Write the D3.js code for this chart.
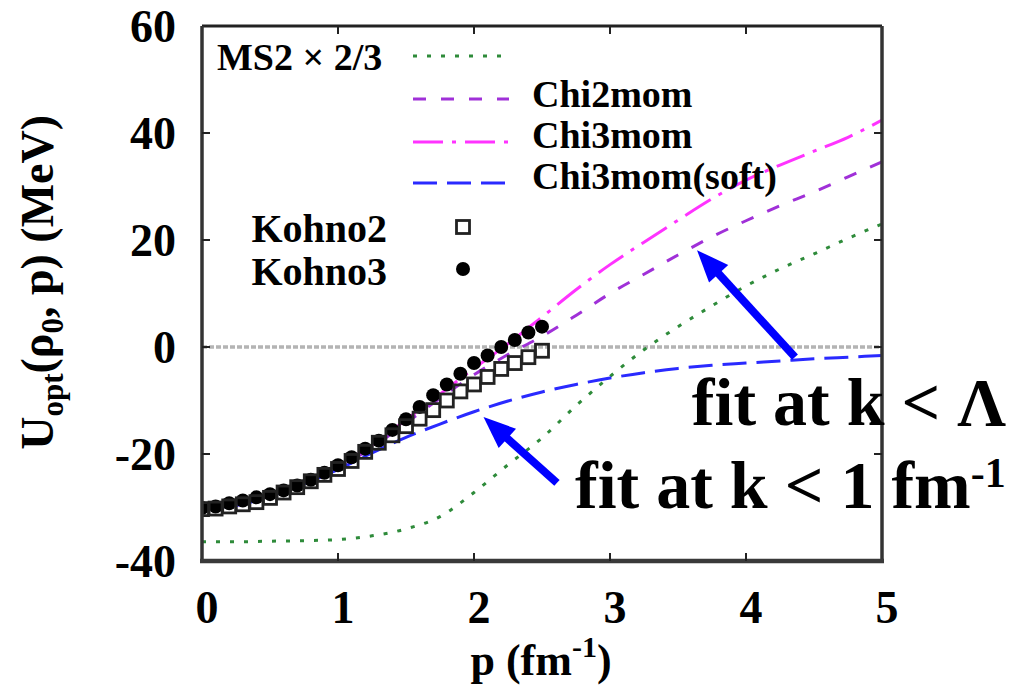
<!DOCTYPE html>
<html>
<head>
<meta charset="utf-8">
<script src="https://cdn.jsdelivr.net/npm/d3@7"></script>
<style>
  body { margin: 0; background: #fff; }
  svg { display: block; }
  text { font-family: "Liberation Serif", "Times New Roman", serif; font-weight: bold; fill: #000; }
</style>
</head>
<body>
<svg id="chart" width="1028" height="685"></svg>
<script>
// momentum grid for the model curves (fm^-1)
const pGrid = [0, 0.25, 0.5, 0.75, 1, 1.25, 1.5, 1.75, 2, 2.25, 2.5, 2.75, 3, 3.25, 3.5, 3.75, 4, 4.25, 4.5, 4.75, 5]
const ms2 = [-36.4, -36.4, -36.3, -36.2, -36.0, -35.3, -34.0, -31.7, -27.2, -22.0, -17.0, -11.0, -5.5, -0.5, 3.8, 7.7, 11.4, 14.6, 17.4, 20.3, 23.0]
const chi2mom = [-30.1, -29.6, -27.8, -25.6, -22.6, -18.8, -14.2, -9.6, -5.2, -1.4, 2.0, 5.9, 10.0, 13.6, 17.2, 20.6, 23.6, 26.4, 29.0, 31.8, 34.6]
const chi3mom = [-30.1, -29.5, -27.6, -25.2, -22.2, -18.3, -13.6, -8.8, -4.0, 0.6, 5.6, 10.7, 15.4, 19.6, 23.7, 27.7, 31.2, 34.0, 36.6, 39.2, 42.4]
const chi3momSoft = [-30.1, -29.6, -27.9, -25.6, -22.9, -19.8, -16.9, -14.4, -12.1, -10.1, -8.4, -7.0, -5.8, -4.8, -4.0, -3.4, -3.0, -2.6, -2.2, -1.9, -1.6]

// Kohno points
const kohnoP = [0, 0.1, 0.2, 0.3, 0.4, 0.5, 0.6, 0.7, 0.8, 0.9, 1.0, 1.1, 1.2, 1.3, 1.4, 1.5, 1.6, 1.7, 1.8, 1.9, 2.0, 2.1, 2.2, 2.3, 2.4, 2.5]
const kohno2 = [-30.3, -30.2, -29.8, -29.4, -29.0, -28.2, -27.2, -26.2, -25.1, -23.9, -22.8, -21.3, -19.6, -17.9, -16.5, -14.8, -13.4, -11.8, -10.0, -8.3, -7.0, -5.6, -4.1, -3.0, -1.9, -0.7]
const kohno3 = [-30.1, -29.8, -29.2, -28.7, -28.1, -27.5, -26.8, -25.9, -24.8, -23.5, -22.1, -20.6, -19.0, -17.5, -15.5, -13.5, -11.2, -9.0, -7.0, -5.0, -3.0, -1.6, 0.0, 1.3, 2.7, 3.8]

const xTicks = [0, 1, 2, 3, 4, 5]
const yTicks = [-40, -20, 0, 20, 40, 60]

// arrows: [tailP, tailU, tipP, tipU]
const arrowLambda = [4.36, -1.9, 3.64, 18.1]
const arrowOne = [2.61, -25.4, 2.07, -13.1]

const svg = d3.select('#chart')
const x = d3.scaleLinear().domain([0, 5]).range([202, 882])
const y = d3.scaleLinear().domain([-40, 60]).range([561, 26])

svg.append('clipPath').attr('id', 'plotclip')
  .append('rect').attr('x', 202).attr('y', 26).attr('width', 680).attr('height', 535)

const plot = svg.append('g').attr('clip-path', 'url(#plotclip)')

// zero line
plot.append('line')
  .attr('x1', x(0)).attr('x2', x(5)).attr('y1', y(0)).attr('y2', y(0))
  .attr('stroke', '#b4b4b4').attr('stroke-width', 3.5).attr('stroke-dasharray', '5,2')

const series = [
  { name: 'ms2', vals: ms2, color: '#2e8b3a', dash: '4,10', width: 3 },
  { name: 'chi2mom', vals: chi2mom, color: '#a030d8', dash: '13,15', width: 3 },
  { name: 'chi3mom', vals: chi3mom, color: '#ff33ff', dash: '30,9,4,9', width: 3 },
  { name: 'chi3momSoft', vals: chi3momSoft, color: '#2a2aff', dash: '24,10', width: 3 }
]

const line = d3.line()
  .x(d => x(d[0]))
  .y(d => y(d[1]))
  .curve(d3.curveMonotoneX)

series.forEach(s => {
  plot.append('path')
    .attr('d', line(pGrid.map((p, i) => [p, s.vals[i]])))
    .attr('fill', 'none')
    .attr('stroke', s.color)
    .attr('stroke-width', s.width)
    .attr('stroke-dasharray', s.dash)
})

// Kohno3 filled circles
plot.append('g').selectAll('circle')
  .data(kohnoP.map((p, i) => [p, kohno3[i]]))
  .join('circle')
  .attr('cx', d => x(d[0])).attr('cy', d => y(d[1]))
  .attr('r', 7).attr('fill', '#000')

// Kohno2 open squares
const sq = 13
plot.append('g').selectAll('rect')
  .data(kohnoP.map((p, i) => [p, kohno2[i]]))
  .join('rect')
  .attr('x', d => x(d[0]) - sq / 2).attr('y', d => y(d[1]) - sq / 2)
  .attr('width', sq).attr('height', sq)
  .attr('fill', 'none').attr('stroke', '#222').attr('stroke-width', 2.8)

// frame
svg.append('line').attr('x1', 202).attr('x2', 882).attr('y1', 26).attr('y2', 26).attr('stroke', '#222').attr('stroke-width', 3)
svg.append('line').attr('x1', 882).attr('x2', 882).attr('y1', 26).attr('y2', 561).attr('stroke', '#333').attr('stroke-width', 3.5)
svg.append('line').attr('x1', 202).attr('x2', 202).attr('y1', 26).attr('y2', 561).attr('stroke', '#333').attr('stroke-width', 3.5)
svg.append('line').attr('x1', 200).attr('x2', 884).attr('y1', 561).attr('y2', 561).attr('stroke', '#3a3a3a').attr('stroke-width', 4.5)

// ticks (inward, all four sides)
const tickLen = 8
const tk = svg.append('g').attr('stroke', '#222').attr('stroke-width', 2)
xTicks.slice(1, -1).forEach(t => {
  tk.append('line').attr('x1', x(t)).attr('x2', x(t)).attr('y1', 561).attr('y2', 561 - tickLen)
  tk.append('line').attr('x1', x(t)).attr('x2', x(t)).attr('y1', 26).attr('y2', 26 + tickLen)
})
yTicks.slice(1, -1).forEach(t => {
  tk.append('line').attr('x1', 202).attr('x2', 202 + tickLen).attr('y1', y(t)).attr('y2', y(t))
  tk.append('line').attr('x1', 882).attr('x2', 882 - tickLen).attr('y1', y(t)).attr('y2', y(t))
})

// tick labels
svg.append('g').selectAll('text')
  .data(yTicks).join('text')
  .attr('x', 176).attr('y', d => y(d))
  .attr('text-anchor', 'end').attr('dominant-baseline', 'central')
  .attr('font-size', 46)
  .text(d => d)

svg.append('g').selectAll('text')
  .data(xTicks).join('text')
  .attr('x', d => x(d) + 5).attr('y', 623)
  .attr('text-anchor', 'middle')
  .attr('font-size', 46)
  .text(d => d)

// axis titles
const xt = svg.append('text').attr('x', 541).attr('y', 675).attr('text-anchor', 'middle').attr('font-size', 44)
xt.append('tspan').text('p (fm')
xt.append('tspan').attr('font-size', 30).attr('dy', -18).text('-1')
xt.append('tspan').attr('dy', 18).text(')')

const yt = svg.append('text')
  .attr('transform', 'translate(53,115) rotate(-90)')
  .attr('text-anchor', 'end').attr('font-size', 46)
yt.append('tspan').text('U')
yt.append('tspan').attr('font-size', 31).attr('dy', 10).text('opt')
yt.append('tspan').attr('dy', -10).text('(ρ')
yt.append('tspan').attr('font-size', 31).attr('dy', 10).text('0')
yt.append('tspan').attr('dy', -10).text(', p) (MeV)')

// legend
const lg = svg.append('g')
lg.append('text').attr('x', 217).attr('y', 70).attr('font-size', 38).text('MS2 × 2/3')
const legendRows = [
  { s: series[0], y: 56, label: null, ty: 0 },
  { s: series[1], y: 99, label: 'Chi2mom', ty: 107 },
  { s: series[2], y: 142, label: 'Chi3mom', ty: 148 },
  { s: series[3], y: 183, label: 'Chi3mom(soft)', ty: 189 }
]
legendRows.forEach(r => {
  lg.append('line').attr('x1', 413).attr('x2', 509).attr('y1', r.y).attr('y2', r.y)
    .attr('stroke', r.s.color).attr('stroke-width', r.s.width).attr('stroke-dasharray', r.s.dash)
  if (r.label) lg.append('text').attr('x', 532).attr('y', r.ty).attr('font-size', 38).text(r.label)
})
lg.append('text').attr('x', 387).attr('y', 242).attr('text-anchor', 'end').attr('font-size', 40).text('Kohno2')
lg.append('rect').attr('x', 463 - sq / 2).attr('y', 227 - sq / 2).attr('width', sq).attr('height', sq)
  .attr('fill', 'none').attr('stroke', '#222').attr('stroke-width', 2.8)
lg.append('text').attr('x', 387).attr('y', 285).attr('text-anchor', 'end').attr('font-size', 40).text('Kohno3')
lg.append('circle').attr('cx', 463).attr('cy', 269).attr('r', 7).attr('fill', '#000')

// arrows
function drawArrow (a) {
  const x0 = x(a[0]), y0 = y(a[1]), x1 = x(a[2]), y1 = y(a[3])
  const dx = x1 - x0, dy = y1 - y0
  const len = Math.sqrt(dx * dx + dy * dy)
  const ux = dx / len, uy = dy / len
  const headLen = 32, headW = 13
  const bx = x1 - ux * headLen, by = y1 - uy * headLen
  svg.append('line').attr('x1', x0).attr('y1', y0).attr('x2', bx + ux * 2).attr('y2', by + uy * 2)
    .attr('stroke', '#0000ff').attr('stroke-width', 8)
  svg.append('path')
    .attr('d', `M${x1},${y1}L${bx - uy * headW},${by + ux * headW}L${bx + uy * headW},${by - ux * headW}Z`)
    .attr('fill', '#0000ff')
}
drawArrow(arrowLambda)
drawArrow(arrowOne)

// annotations
svg.append('text').attr('x', 1006).attr('y', 425).attr('text-anchor', 'end').attr('font-size', 68).text('fit at k < Λ')
const a2 = svg.append('text').attr('x', 575).attr('y', 508).attr('font-size', 68)
a2.append('tspan').text('fit at k < 1 fm')
a2.append('tspan').attr('font-size', 42).attr('dy', -21).text('-1')
</script>
</body>
</html>
